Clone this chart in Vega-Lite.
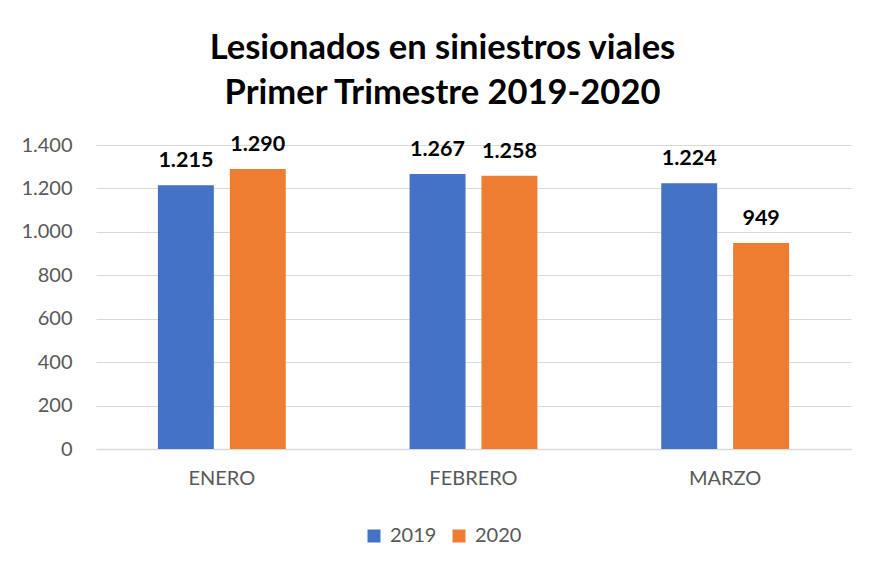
{
  "$schema": "https://vega.github.io/schema/vega-lite/v6.json",
  "width": 755,
  "height": 304,
  "autosize": {"type": "none"},
  "padding": {"left": 96, "top": 145, "right": 24, "bottom": 123},
  "background": "white",
  "config": {
    "locale": {"number": {"decimal": ",", "thousands": ".", "grouping": [3], "currency": ["", "€"]}},
    "view": {"stroke": null},
    "font": "Lato"
  },
  "title": {
    "text": ["Lesionados en siniestros viales", "Primer Trimestre 2019-2020"],
    "font": "Lato",
    "fontSize": 34.5,
    "fontWeight": "bold",
    "color": "black",
    "anchor": "middle",
    "lineHeight": 45,
    "dx": -31,
    "offset": 22
  },
  "data": {
    "values": [
      {"mes": "ENERO", "anio": "2019", "valor": 1215},
      {"mes": "ENERO", "anio": "2020", "valor": 1290},
      {"mes": "FEBRERO", "anio": "2019", "valor": 1267},
      {"mes": "FEBRERO", "anio": "2020", "valor": 1258},
      {"mes": "MARZO", "anio": "2019", "valor": 1224},
      {"mes": "MARZO", "anio": "2020", "valor": 949}
    ]
  },
  "encoding": {
    "x": {
      "field": "mes", "type": "nominal", "sort": ["ENERO", "FEBRERO", "MARZO"],
      "scale": {"paddingInner": 0, "paddingOuter": 0},
      "axis": {"title": null, "labelAngle": 0, "labelFontSize": 20, "labelColor": "#595959", "labelFont": "Lato", "ticks": false, "domainColor": "#d9d9d9", "domainWidth": 1.5, "labelPadding": 19}
    },
    "xOffset": {"field": "anio", "type": "nominal", "scale": {"paddingInner": 0.222, "paddingOuter": 0.861}},
    "y": {
      "field": "valor", "type": "quantitative",
      "scale": {"domain": [0, 1400]},
      "axis": {"title": null, "values": [0, 200, 400, 600, 800, 1000, 1200, 1400], "format": ",d", "labelFontSize": 20, "labelColor": "#595959", "labelFont": "Lato", "ticks": false, "domain": false, "gridColor": "#d9d9d9", "gridWidth": 1.2, "labelPadding": 24}
    }
  },
  "layer": [
    {
      "mark": {"type": "bar"},
      "encoding": {
        "color": {
          "field": "anio", "type": "nominal",
          "scale": {"domain": ["2019", "2020"], "range": ["#4472C4", "#ED7D31"]},
          "legend": {"title": null, "orient": "none", "direction": "horizontal", "legendX": 268, "legendY": 381, "padding": 0, "symbolType": "square", "symbolSize": 169, "symbolStrokeWidth": 0, "labelFontSize": 20, "labelColor": "#595959", "labelFont": "Lato", "labelOffset": 6, "columnPadding": 12}
        }
      }
    },
    {
      "mark": {"type": "text", "fontWeight": "bold", "fontSize": 21.5, "font": "Lato", "color": "black", "baseline": "alphabetic", "dy": -18},
      "encoding": {
        "text": {"field": "valor", "type": "quantitative", "format": ",d"}
      }
    }
  ]
}
